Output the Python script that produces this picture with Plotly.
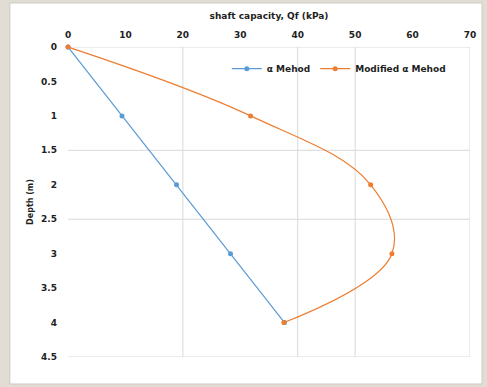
import plotly.graph_objects as go

# Depth below ground (m)
depth = [0, 1, 2, 3, 4]
# Shaft capacity Qf (kPa) for each method
alpha_method = [0, 9.4, 18.9, 28.3, 37.7]
modified_alpha = [0, 31.8, 52.7, 56.4, 37.6]

x_ticks = [0, 10, 20, 30, 40, 50, 60, 70]
y_ticks = [0, 0.5, 1, 1.5, 2, 2.5, 3, 3.5, 4, 4.5]
x_grid = [20, 40, 50, 70]
y_grid = [0, 1.5, 2.5, 4.5]

BLUE = "#5b9bd5"
ORANGE = "#ed7d31"
TEXT = "#1e1e1e"
GRID = "#d9d9d9"
FONT = "DejaVu Sans, Liberation Sans, Arial, sans-serif"

fig = go.Figure()
fig.add_trace(go.Scatter(
    x=alpha_method, y=depth, name="\u03b1 Mehod", mode="lines+markers",
    line=dict(color=BLUE, width=1.2), marker=dict(size=5, color=BLUE),
    cliponaxis=False,
))
fig.add_trace(go.Scatter(
    x=modified_alpha, y=depth, name="Modified \u03b1 Mehod", mode="lines+markers",
    line=dict(color=ORANGE, width=1.2, shape="spline", smoothing=1.1),
    marker=dict(size=5, color=ORANGE),
    cliponaxis=False,
))

shapes = [
    # white chart panel on the beige frame
    dict(type="rect", xref="paper", yref="paper", x0=-0.1446, x1=1.03,
         y0=-0.087, y1=1.142, fillcolor="white",
         line=dict(color="#cfcac0", width=1), layer="below"),
]
for gx in x_grid:
    shapes.append(dict(type="line", xref="x", yref="y", x0=gx, x1=gx,
                       y0=0, y1=4.5, line=dict(color=GRID, width=1), layer="below"))
for gy in y_grid:
    shapes.append(dict(type="line", xref="x", yref="y", x0=0, x1=70,
                       y0=gy, y1=gy, line=dict(color=GRID, width=1), layer="below"))

fig.update_layout(
    width=487, height=387,
    margin=dict(l=68, r=11, t=47, b=30),
    paper_bgcolor="#e2ddd4",
    plot_bgcolor="rgba(0,0,0,0)",
    font=dict(family=FONT, size=10, color=TEXT),
    shapes=shapes,
    showlegend=True,
    legend=dict(orientation="h", x=0.395, y=0.93, xanchor="left", yanchor="middle",
                bgcolor="rgba(0,0,0,0)",
                font=dict(size=9, color=TEXT, weight="bold"),
                itemwidth=30, tracegroupgap=0),
    xaxis=dict(
        side="top", range=[0, 70], tickvals=x_ticks, ticktext=[str(v) for v in x_ticks],
        showgrid=False, zeroline=False, showline=False, ticks="",
        ticklabelstandoff=6,
        tickfont=dict(size=9, color=TEXT, weight="bold"),
        title=dict(text="shaft capacity, Qf (kPa)",
                   font=dict(size=9, color=TEXT, weight="bold"), standoff=9),
    ),
    yaxis=dict(
        range=[4.5, 0], tickvals=y_ticks, ticktext=[f"{v:g}" for v in y_ticks],
        showgrid=False, zeroline=False, showline=False, ticks="",
        ticklabelstandoff=10,
        tickfont=dict(size=9, color=TEXT, weight="bold"),
        title=dict(text="Depth (m)", font=dict(size=8, color=TEXT, weight="bold"), standoff=6),
    ),
)

fig.write_html("out.html")
